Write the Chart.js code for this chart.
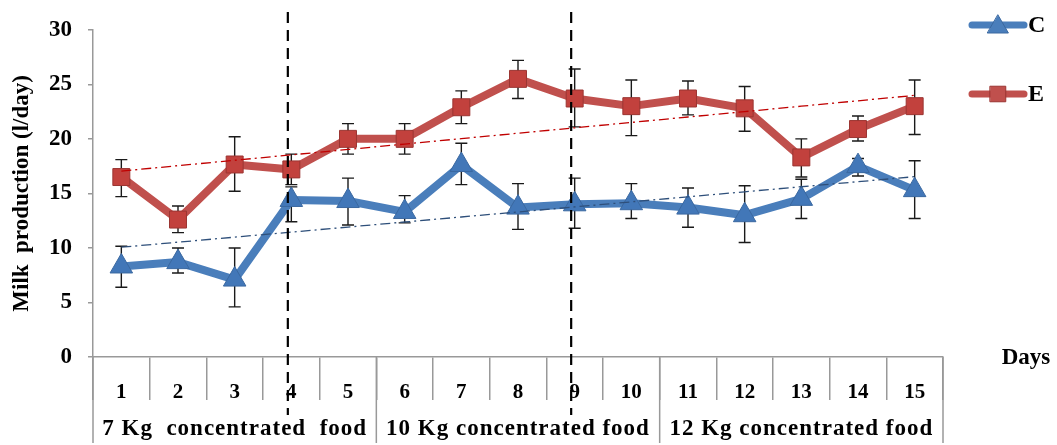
<!DOCTYPE html>
<html>
<head>
<meta charset="utf-8">
<script src="https://cdn.jsdelivr.net/npm/chart.js@4.4.1/dist/chart.umd.min.js"></script>
<style>
  html, body { margin: 0; padding: 0; background: #fff; }
  canvas { display: block; }
</style>
</head>
<body>
<canvas id="milkChart" width="1057" height="445"></canvas>
<script>
// days and feeding periods
var days = ['1', '2', '3', '4', '5', '6', '7', '8', '9', '10', '11', '12', '13', '14', '15'];
var periods = ['7 Kg  concentrated  food', '10 Kg concentrated food', '12 Kg concentrated food'];
var yTicks = [0, 5, 10, 15, 20, 25, 30];

// group C (blue triangles)
var cValues = [8.3, 8.7, 7.1, 14.4, 14.3, 13.3, 17.6, 13.7, 14.0, 14.1, 13.7, 13.0, 14.5, 17.5, 15.3];
var cHigh = [10.15, 10.0, 10.0, 15.6, 16.4, 14.8, 19.6, 15.9, 16.4, 15.9, 15.5, 15.7, 16.3, 18.2, 18.0];
var cLow = [6.4, 7.7, 4.6, 12.4, 12.1, 12.3, 15.8, 11.7, 11.8, 12.7, 11.9, 10.5, 12.7, 16.6, 12.7];

// group E (red squares)
var eValues = [16.5, 12.6, 17.65, 17.2, 20.0, 20.0, 22.9, 25.5, 23.7, 23.0, 23.7, 22.8, 18.3, 20.9, 23.0];
var eHigh = [18.1, 13.85, 20.2, 18.6, 21.4, 21.4, 24.4, 27.2, 26.4, 25.4, 25.3, 24.8, 20.0, 22.1, 25.4];
var eLow = [14.7, 11.4, 15.2, 15.8, 18.6, 18.6, 21.4, 23.7, 21.1, 20.3, 22.2, 20.7, 16.5, 19.8, 20.4];

// days where the ration changed (dashed markers)
var changeDays = ['4', '9'];

var blue = '#4A7EBB';
var red = '#C0504D';
var serif = '"Liberation Serif", "Times New Roman", serif';

// linear trend (least squares), like the Excel trendline
function trend(values) {
  var n = values.length, sx = 0, sy = 0, sxy = 0, sxx = 0, i;
  for (i = 0; i < n; i++) {
    sx += i; sy += values[i]; sxy += i * values[i]; sxx += i * i;
  }
  var slope = (n * sxy - sx * sy) / (n * sxx - sx * sx);
  var icpt = (sy - slope * sx) / n;
  var out = [];
  for (i = 0; i < n; i++) out.push(icpt + slope * i);
  return out;
}

var errorBars = {
  id: 'errorBars',
  beforeDatasetsDraw: function (chart) {
    var ctx = chart.ctx, xs = chart.scales.x, ys = chart.scales.y;
    var sets = [[cHigh, cLow], [eHigh, eLow]];
    ctx.save();
    ctx.strokeStyle = '#1a1a1a';
    ctx.lineWidth = 1.4;
    sets.forEach(function (s) {
      for (var i = 0; i < days.length; i++) {
        var x = xs.getPixelForValue(i);
        var top = ys.getPixelForValue(s[0][i]);
        var bot = ys.getPixelForValue(s[1][i]);
        ctx.beginPath();
        ctx.moveTo(x, top); ctx.lineTo(x, bot);
        ctx.moveTo(x - 6, top); ctx.lineTo(x + 6, top);
        ctx.moveTo(x - 6, bot); ctx.lineTo(x + 6, bot);
        ctx.stroke();
      }
    });
    ctx.restore();
  }
};

var decorations = {
  id: 'decorations',
  afterDraw: function (chart) {
    var ctx = chart.ctx, xs = chart.scales.x, area = chart.chartArea;
    var step = xs.getPixelForValue(1) - xs.getPixelForValue(0);
    var bottom = 443;
    ctx.save();

    // long frame lines of the category table
    ctx.strokeStyle = '#999';
    ctx.lineWidth = 1.5;
    var edges = [area.left, xs.getPixelForValue(4) + step / 2, xs.getPixelForValue(9) + step / 2, area.right];
    edges.forEach(function (x) {
      ctx.beginPath();
      ctx.moveTo(x, area.bottom);
      ctx.lineTo(x, bottom);
      ctx.stroke();
    });

    // period labels
    ctx.fillStyle = '#000';
    ctx.font = 'bold 23px ' + serif;
    ctx.letterSpacing = '1px';
    ctx.textAlign = 'center';
    ctx.textBaseline = 'middle';
    periods.forEach(function (p, k) {
      var x = (edges[k] + edges[k + 1]) / 2;
      ctx.fillText(p, x, 429);
    });
    ctx.letterSpacing = '0px';

    // Days
    ctx.font = 'bold 23px ' + serif;
    ctx.fillText('Days', 1026, 358);

    // dashed change lines
    ctx.strokeStyle = '#000';
    ctx.lineWidth = 2.2;
    ctx.setLineDash([11, 7]);
    changeDays.forEach(function (d) {
      var x = xs.getPixelForValue(days.indexOf(d)) - 3.5;
      ctx.beginPath();
      ctx.moveTo(x, 12);
      ctx.lineTo(x, 415);
      ctx.stroke();
    });
    ctx.setLineDash([]);

    // legend
    var items = [
      { label: 'C', color: blue, style: 'triangle', r: 12, y: 25 },
      { label: 'E', color: red, style: 'rect', r: 11, y: 94 }
    ];
    items.forEach(function (it) {
      ctx.strokeStyle = it.color;
      ctx.lineWidth = 7;
      ctx.lineCap = 'round';
      ctx.beginPath();
      ctx.moveTo(972, it.y);
      ctx.lineTo(1024, it.y);
      ctx.stroke();
      ctx.fillStyle = it.color;
      ctx.strokeStyle = it.style === 'rect' ? '#9B3532' : '#3A68A0';
      ctx.lineWidth = 1;
      Chart.helpers.drawPoint(ctx, { pointStyle: it.style, radius: it.r, rotation: 0, borderWidth: 1 }, 998, it.y + (it.style === 'triangle' ? 2 : 0));
      ctx.fillStyle = '#000';
      ctx.font = 'bold 24px ' + serif;
      ctx.textAlign = 'left';
      ctx.fillText(it.label, 1028, it.y + 1);
    });
    ctx.restore();
  }
};

var ctx = document.getElementById('milkChart');
new Chart(ctx, {
  type: 'line',
  data: {
    labels: days,
    datasets: [
      {
        label: 'C trend',
        data: trend(cValues),
        borderColor: '#2E4F7A',
        borderWidth: 1.3,
        borderDash: [10, 4, 2, 4],
        pointRadius: 0,
        order: 0
      },
      {
        label: 'E trend',
        data: trend(eValues),
        borderColor: '#C00000',
        borderWidth: 1.3,
        borderDash: [10, 4, 2, 4],
        pointRadius: 0,
        order: 0
      },
      {
        label: 'C',
        data: cValues,
        borderColor: blue,
        borderWidth: 8,
        borderJoinStyle: 'round',
        borderCapStyle: 'round',
        pointStyle: 'triangle',
        pointRadius: 13,
        pointBackgroundColor: '#4277B8',
        pointBorderColor: '#3A68A0',
        pointBorderWidth: 1,
        order: 1
      },
      {
        label: 'E',
        data: eValues,
        borderColor: red,
        borderWidth: 8,
        borderJoinStyle: 'round',
        borderCapStyle: 'round',
        pointStyle: 'rect',
        pointRadius: 12,
        pointBackgroundColor: '#C2413D',
        pointBorderColor: '#9B3532',
        pointBorderWidth: 1,
        order: 1
      }
    ]
  },
  options: {
    responsive: false,
    animation: false,
    layout: { padding: { left: 0, right: 114, top: 17, bottom: 0 } },
    plugins: {
      legend: { display: false },
      tooltip: { enabled: false }
    },
    scales: {
      x: {
        type: 'category',
        offset: true,
        grid: {
          display: true,
          offset: true,
          drawOnChartArea: false,
          drawTicks: true,
          tickLength: 43,
          color: '#999',
          lineWidth: 1.5
        },
        border: { display: true, color: '#999', width: 1.5 },
        ticks: {
          color: '#000',
          font: { family: serif, size: 21, weight: 'bold' },
          padding: -20,
          maxRotation: 0,
          autoSkip: false
        },
        afterFit: function (scale) { scale.height = 88; }
      },
      y: {
        min: 0,
        max: 30,
        afterBuildTicks: function (scale) {
          scale.ticks = yTicks.map(function (v) { return { value: v }; });
        },
        grid: {
          display: true,
          drawOnChartArea: false,
          drawTicks: true,
          tickLength: 5,
          color: '#999',
          lineWidth: 1.5
        },
        border: { display: true, color: '#999', width: 1.5 },
        ticks: {
          color: '#000',
          font: { family: serif, size: 23, weight: 'bold' },
          padding: 16
        },
        title: {
          display: true,
          text: 'Milk  production (l/day)',
          color: '#000',
          font: { family: serif, size: 23, weight: 'bold' },
          padding: { top: 8, bottom: 0 }
        },
        afterFit: function (scale) { scale.width = 93; }
      }
    }
  },
  plugins: [errorBars, decorations]
});
</script>
</body>
</html>
